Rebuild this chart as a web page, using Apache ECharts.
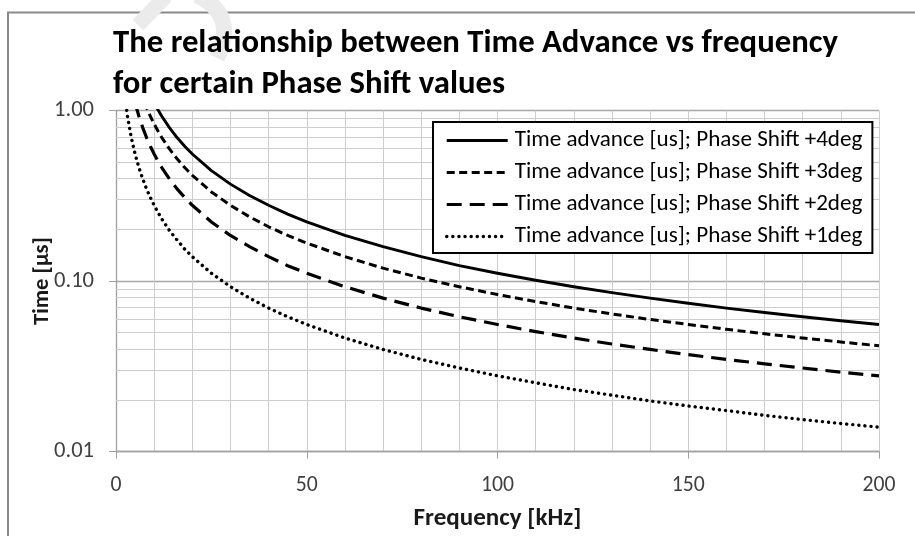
<!DOCTYPE html>
<html>
<head>
<meta charset="utf-8">
<script src="https://cdn.jsdelivr.net/npm/echarts@6/dist/echarts.min.js"></script>
<style>
html,body{margin:0;padding:0;background:#fff;}
#chart{width:915px;height:536px;}
</style>
</head>
<body>
<div id="chart"></div>
<script>
// ---- data ----
const frequency = [2,3,4,5,6,7,8,9,10,11,12,14,16,18,20,25,30,35,40,45,50,60,70,80,90,100,110,120,130,140,150,160,170,180,190,200];
const shift4deg = [5.56,3.70,2.78,2.22,1.85,1.59,1.39,1.23,1.11,1.01,0.926,0.794,0.694,0.617,0.556,0.444,0.370,0.317,0.278,0.247,0.222,0.185,0.159,0.139,0.123,0.111,0.101,0.0926,0.0855,0.0794,0.0741,0.0694,0.0654,0.0617,0.0585,0.0556];
const shift3deg = [4.17,2.78,2.08,1.67,1.39,1.19,1.04,0.926,0.833,0.758,0.694,0.595,0.521,0.463,0.417,0.333,0.278,0.238,0.208,0.185,0.167,0.139,0.119,0.104,0.0926,0.0833,0.0758,0.0694,0.0641,0.0595,0.0556,0.0521,0.0490,0.0463,0.0439,0.0417];
const shift2deg = [2.78,1.85,1.39,1.11,0.926,0.794,0.694,0.617,0.556,0.505,0.463,0.397,0.347,0.309,0.278,0.222,0.185,0.159,0.139,0.123,0.111,0.0926,0.0794,0.0694,0.0617,0.0556,0.0505,0.0463,0.0427,0.0397,0.0370,0.0347,0.0327,0.0309,0.0292,0.0278];
const shift1deg = [1.39,0.926,0.694,0.556,0.463,0.397,0.347,0.309,0.278,0.253,0.231,0.198,0.174,0.154,0.139,0.111,0.0926,0.0794,0.0694,0.0617,0.0556,0.0463,0.0397,0.0347,0.0309,0.0278,0.0253,0.0231,0.0214,0.0198,0.0185,0.0174,0.0163,0.0154,0.0146,0.0139];
const seriesNames = [
  'Time advance [us]; Phase Shift +4deg',
  'Time advance [us]; Phase Shift +3deg',
  'Time advance [us]; Phase Shift +2deg',
  'Time advance [us]; Phase Shift +1deg'
];
const yTicks = [0.01, 0.1, 1];
const yMinorGrid = [0.02,0.03,0.04,0.05,0.06,0.07,0.08,0.09,0.2,0.3,0.4,0.5,0.6,0.7,0.8,0.9];
const titleLines = ['The relationship between Time Advance vs frequency', 'for certain Phase Shift values'];
const xName = 'Frequency [kHz]';
const yName = 'Time [µs]';

// ---- styling helpers ----
const FAM = 'Carlito, Lato, sans-serif';
const ctx = document.createElement('canvas').getContext('2d');
function fit(text, weight, target) {
  ctx.font = weight + ' 100px ' + FAM;
  return 100 * target / ctx.measureText(text).width;
}
const titleSize = fit(titleLines[0], 'bold', 725);
const legendSize = fit(seriesNames[0], 'normal', 348);
const xTickSize = fit('100', 'normal', 33);
const yTickSize = fit('0.01', 'normal', 40);
const xNameSize = fit(xName, 'bold', 168);
const yNameSize = fit(yName, 'bold', 88);

function pairs(vals) { return frequency.map((f, i) => [f, vals[i]]); }

const styles = [
  {width: 2.9, type: 'solid', cap: 'butt'},
  {width: 3, type: [8, 4.5], cap: 'butt'},
  {width: 3.2, type: [15, 8], cap: 'butt'},
  {width: 3.4, type: [0.1, 6], cap: 'round'}
];
const values = [shift4deg, shift3deg, shift2deg, shift1deg];

const series = values.map((v, i) => ({
  name: seriesNames[i],
  type: 'line',
  data: pairs(v),
  showSymbol: false,
  symbol: 'none',
  z: 3,
  lineStyle: {color: '#000', width: styles[i].width, type: styles[i].type, cap: styles[i].cap, join: 'round'},
  itemStyle: {color: '#000'},
  emphasis: {disabled: true}
}));
series[0].markLine = {
  silent: true,
  symbol: ['none', 'none'],
  z: 1,
  label: {show: false},
  lineStyle: {color: '#cdcdcd', type: 'solid', width: 1},
  emphasis: {disabled: true},
  animation: false,
  data: yMinorGrid.map(v => ({yAxis: v}))
};

const chart = echarts.init(document.getElementById('chart'), null, {renderer: 'canvas'});
chart.setOption({
  animation: false,
  backgroundColor: '#fff',
  title: {
    text: titleLines.join('\n'),
    left: 113, top: 23, padding: 0,
    textStyle: {fontFamily: FAM, fontWeight: 'bold', fontSize: titleSize, lineHeight: 41, color: '#000'}
  },
  grid: {left: 116, right: 36, top: 110.5, bottom: 83, containLabel: false},
  legend: {
    orient: 'vertical',
    left: 433, top: 122,
    padding: [7, 10, 5, 12],
    itemWidth: 61, itemHeight: 14, itemGap: 9,
    backgroundColor: '#fff',
    borderColor: '#000', borderWidth: 2, borderRadius: 0,
    lineStyle: {width: 3},
    itemStyle: {opacity: 0, color: 'transparent', borderWidth: 0},
    textStyle: {fontFamily: FAM, fontSize: legendSize, lineHeight: 20, color: '#000', padding: [0, 0, 0, 2]},
    data: seriesNames.map((n, i) => ({
      name: n,
      itemStyle: {opacity: 0, color: 'transparent', borderWidth: 0},
      lineStyle: {width: styles[i].width, type: styles[i].type, cap: styles[i].cap}
    })),
    selectedMode: false
  },
  xAxis: {
    type: 'value', min: 0, max: 200, interval: 50,
    name: xName, nameLocation: 'middle', nameGap: 67 - xNameSize / 2, nameMoveOverlap: false,
    nameTextStyle: {fontFamily: FAM, fontWeight: 'bold', fontSize: xNameSize, color: '#1a1a1a'},
    axisLine: {show: true, onZero: false, lineStyle: {color: '#a0a0a0', width: 1.3}},
    axisTick: {show: true, length: 7, inside: false, lineStyle: {color: '#a0a0a0', width: 1}},
    axisLabel: {fontFamily: FAM, fontSize: xTickSize, color: '#404040', margin: 487 - 453 - xTickSize / 2},
    splitLine: {show: true, lineStyle: {color: '#cdcdcd', width: 1}},
    minorTick: {show: false, splitNumber: 5},
    minorSplitLine: {show: true, lineStyle: {color: '#cdcdcd', width: 1}}
  },
  yAxis: {
    type: 'log', logBase: 10, min: yTicks[0], max: yTicks[yTicks.length - 1],
    name: yName, nameLocation: 'middle', nameGap: 73 - yNameSize / 2, nameRotate: 90, nameMoveOverlap: false,
    nameTextStyle: {fontFamily: FAM, fontWeight: 'bold', fontSize: yNameSize, color: '#1a1a1a'},
    axisLine: {show: true, lineStyle: {color: '#a0a0a0', width: 1.3}},
    axisTick: {show: true, length: 7, inside: false, lineStyle: {color: '#a0a0a0', width: 1}},
    axisLabel: {fontFamily: FAM, fontSize: yTickSize, color: '#404040', margin: 22, formatter: v => Number(v).toFixed(2)},
    splitLine: {show: true, lineStyle: {color: '#a6a6a6', width: 1.3}},
    minorTick: {show: false},
    minorSplitLine: {show: false}
  },
  graphic: [
    {type: 'rect', z: -10, silent: true, shape: {x: 8, y: 12.5, width: 1200, height: 1200}, style: {fill: null, stroke: '#8a8a8a', lineWidth: 2}},
    {type: 'polyline', z: -5, silent: true, shape: {points: [[138, 25], [166, -4]]}, style: {fill: null, stroke: '#ebebeb', lineWidth: 15}},
    {type: 'bezierCurve', z: -5, silent: true, shape: {x1: 197, y1: -5, cpx1: 238, cpy1: 15, x2: 217, y2: 58}, style: {fill: null, stroke: '#ebebeb', lineWidth: 16}}
  ],
  series: series
});
</script>
</body>
</html>
